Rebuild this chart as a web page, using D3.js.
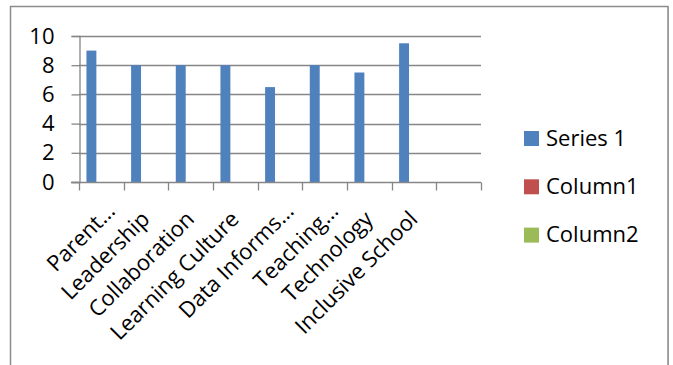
<!DOCTYPE html>
<html>
<head>
<meta charset="utf-8">
<script src="https://cdn.jsdelivr.net/npm/d3@7"></script>
<style>
  html, body { margin: 0; padding: 0; background: #fff; }
  svg { display: block; }
  text { font-family: "Open Sans", "Noto Sans", sans-serif; fill: #000; }
</style>
</head>
<body>
<svg id="chart" width="673" height="365"></svg>
<script>
// Categories along the x axis (the last slot is empty)
const categories = ["Parent…", "Leadership", "Collaboration", "Learning Culture",
  "Data Informs…", "Teaching…", "Technology", "Inclusive School", ""];
// Series values per category (null = no value)
const series1 = [9, 8, 8, 8, 6.5, 8, 7.5, 9.5, null];
const column1 = [null, null, null, null, null, null, null, null, null];
const column2 = [null, null, null, null, null, null, null, null, null];
const seriesNames = ["Series 1", "Column1", "Column2"];
const seriesColors = ["#4F81BD", "#C0504D", "#9BBB59"];
const yTicks = [0, 2, 4, 6, 8, 10];

const seriesData = [series1, column1, column2];

const svg = d3.select("#chart");
const plot = { left: 79, right: 481, top: 36, bottom: 182 };
const grey = "#868686";

// Outer chart frame
svg.append("rect")
  .attr("x", 10.5).attr("y", 6.5)
  .attr("width", 657.5).attr("height", 380)
  .attr("fill", "none").attr("stroke", "#8c8c8c").attr("stroke-width", 1.5);
svg.append("line")
  .attr("x1", 668.5).attr("x2", 668.5).attr("y1", 7).attr("y2", 365)
  .attr("stroke", "#9a9a9a").attr("stroke-width", 1);

const x = d3.scaleBand().domain(d3.range(categories.length))
  .range([plot.left, plot.right]).paddingInner(0).paddingOuter(0);
// Clustered bars inside each category: gap width 150%
const xs = d3.scaleBand().domain(d3.range(seriesNames.length))
  .range([0, x.bandwidth()]).paddingInner(0).paddingOuter(0.75);
const y = d3.scaleLinear().domain([0, 10]).range([plot.bottom, plot.top]);

// Horizontal gridlines
svg.append("g").selectAll("line").data(yTicks.filter(t => t > 0)).join("line")
  .attr("x1", plot.left).attr("x2", plot.right)
  .attr("y1", d => Math.round(y(d)) + 0.5).attr("y2", d => Math.round(y(d)) + 0.5)
  .attr("stroke", grey).attr("stroke-width", 1.3);

// Y axis
const yAxis = svg.append("g")
  .attr("transform", `translate(${plot.left + 0.5},0)`)
  .call(d3.axisLeft(y).tickValues(yTicks).tickSize(8).tickPadding(17).tickFormat(d3.format("d")));
yAxis.select(".domain").attr("stroke", grey).attr("stroke-width", 1.3);
yAxis.selectAll(".tick line").attr("stroke", grey).attr("stroke-width", 1.3);
yAxis.selectAll(".tick text").style("font-size", "22px").attr("fill", "#000")
  .attr("font-family", "Open Sans");

// Bars
const groups = svg.append("g").selectAll("g").data(seriesData).join("g")
  .attr("fill", (d, i) => seriesColors[i]);
groups.each(function(vals, si) {
  d3.select(this).selectAll("rect")
    .data(vals.map((v, ci) => ({ v, ci })).filter(d => d.v != null))
    .join("rect")
    .attr("x", d => x(d.ci) + xs(si))
    .attr("width", xs.bandwidth())
    .attr("y", d => y(d.v))
    .attr("height", d => y(0) - y(d.v));
});

// X axis with category ticks between categories
const xAxisG = svg.append("g").attr("transform", `translate(0,${plot.bottom + 0.5})`);
xAxisG.append("line").attr("x1", plot.left - 8).attr("x2", plot.right)
  .attr("stroke", grey).attr("stroke-width", 1.3);
xAxisG.selectAll("line.tk").data(d3.range(categories.length + 1)).join("line")
  .attr("class", "tk")
  .attr("x1", i => Math.round(plot.left + i * x.bandwidth()) + 0.5)
  .attr("x2", i => Math.round(plot.left + i * x.bandwidth()) + 0.5)
  .attr("y1", 0).attr("y2", 8)
  .attr("stroke", grey).attr("stroke-width", 1.3);

// Rotated category labels
xAxisG.selectAll("text").data(categories).join("text")
  .attr("text-anchor", "end")
  .style("font-size", "22px")
  .attr("transform", (d, i) => {
    const cx = x(i) + x.bandwidth() / 2 + (d.endsWith("…") ? 15 : 5);
    const cy = d.endsWith("…") ? 30 : 38;
    return `translate(${cx},${cy}) rotate(-45)`;
  })
  .text(d => d);

// Legend
const legend = svg.append("g").attr("transform", "translate(524,0)");
const rows = legend.selectAll("g").data(seriesNames).join("g")
  .attr("transform", (d, i) => `translate(0,${138 + i * 48.3})`);
rows.append("rect").attr("x", 0).attr("y", -7).attr("width", 15).attr("height", 15)
  .attr("fill", (d, i) => seriesColors[i]);
rows.append("text").attr("x", 22).attr("dy", "0.35em")
  .style("font-size", "22px").text(d => d);
</script>
</body>
</html>
